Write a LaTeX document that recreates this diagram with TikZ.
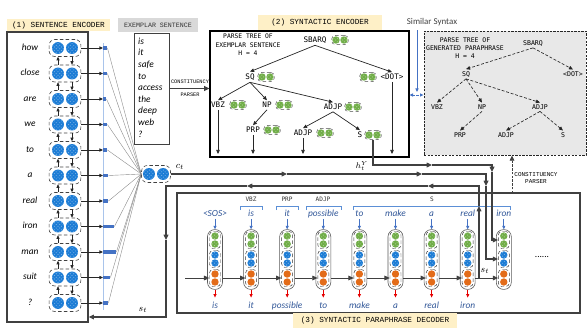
\documentclass[tikz,border=0pt]{standalone}
\usepackage{fontspec}
\setmainfont{Carlito}
\setmonofont{DejaVu Sans Mono}
\newfontfamily\titlemono{Liberation Mono}
\usetikzlibrary{arrows.meta,patterns,fit,calc}
\definecolor{encblue}{HTML}{1C7CD5}
\definecolor{encgreen}{HTML}{70AD47}
\definecolor{encorange}{HTML}{E36C19}
\definecolor{titlebg}{HTML}{FEF0C7}
\definecolor{graylab}{HTML}{D9D9D9}
\definecolor{graybox}{HTML}{E8E8E8}
\definecolor{attnblue}{HTML}{4472C4}
\definecolor{attnline}{HTML}{A9C4EB}
\definecolor{wordblue}{HTML}{2F5597}
\definecolor{brblue}{HTML}{5B8FD6}
\definecolor{darkline}{HTML}{262626}
\definecolor{boxline}{HTML}{404040}
\newcommand{\gpairat}[2]{%
  \node[gpair] (#1) at (#2) {};
  \node[gcirc] (#1a) at ($(#1)+(-4,0)$) {};
  \node[gcirc] (#1b) at ($(#1)+(4,0)$) {};
}
\begin{document}
\begin{tikzpicture}[x=0.03cm,y=-0.03cm,
  word/.style={font=\fontsize{8}{9}\selectfont\itshape, inner sep=0pt, text height=6pt, text depth=2pt},
  dword/.style={word, text=wordblue},
  title/.style={fill=titlebg, inner sep=0pt, font=\titlemono\fontsize{6.6}{7}\selectfont},
  pairbox/.style={draw=black!75, densely dashed, rounded corners=5pt, line width=0.5pt, inner sep=0pt, minimum width=27.2pt, minimum height=14.5pt},
  bcirc/.style={circle, inner sep=0pt, minimum size=10.2pt, preaction={fill=encblue}, pattern=crosshatch dots, pattern color=white!40!encblue},
  gcirc/.style={circle, inner sep=0pt, minimum size=6.3pt, preaction={fill=encgreen}, pattern=crosshatch dots, pattern color=white!40!encgreen},
  dgcirc/.style={gcirc, minimum size=6.3pt},
  dbcirc/.style={circle, inner sep=0pt, minimum size=6.3pt, preaction={fill=encblue}, pattern=crosshatch dots, pattern color=white!40!encblue},
  docirc/.style={circle, inner sep=0pt, minimum size=6.3pt, fill=encorange},
  gpair/.style={draw=black!70, densely dashed, rounded corners=3.5pt, line width=0.4pt, minimum width=14.5pt, minimum height=7.9pt, inner sep=0pt},
  cellbox/.style={draw=black!65, fill=white, rounded corners=6pt, minimum width=12.8pt, minimum height=51pt, inner sep=0pt, line width=0.5pt},
  subbox/.style={draw=black!80, densely dashed, rounded corners=3pt, minimum width=9.4pt, minimum height=14.5pt, inner sep=0pt, line width=0.4pt},
  tlab/.style={font=\ttfamily\fontsize{6.5}{7}\selectfont, inner sep=1.5pt},
  rlab/.style={font=\ttfamily\fontsize{5.6}{6}\selectfont, inner sep=1.5pt},
  blab/.style={font=\ttfamily\fontsize{5.2}{6}\selectfont, inner sep=0pt, text=black!80},
  tarr/.style={-{Triangle[length=3.5pt,width=3pt]}, line width=0.6pt, draw=darkline},
  rarr/.style={tarr, dash pattern=on 2.5pt off 1.5pt, line width=0.55pt},
  conn/.style={line width=0.9pt, draw=boxline},
  tip/.style={-{Triangle[length=4.5pt,width=4pt]}},
  smalltip/.style={-{Triangle[length=3pt,width=2.6pt]}},
  attn/.style={fill=attnblue, inner sep=0pt, minimum height=3.4pt},
  brk/.style={draw=brblue, line width=0.7pt},
]
\useasboundingbox (0,0) rectangle (587,330);

% ================= (1) SENTENCE ENCODER =================
\coordinate (e1) at (7,32); \coordinate (e2) at (88,322);
\node[draw=boxline, line width=1.2pt, fit=(e1)(e2), inner sep=0pt] (encbox) {};
\node[title, minimum width=87.6pt, minimum height=11pt] (t1) at (58.5,25) {(1) SENTENCE ENCODER};

\draw[attnline, line width=0.8pt] (103,43) -- (103,310);

\foreach \w [count=\i] in {how,close,are,we,to,a,real,iron,man,suit,?} {
  \pgfmathsetmacro\yy{48+(\i-1)*25.5}
  \node[word] (w\i) at (30,\yy) {\w};
  \node[pairbox] (p\i) at (65,\yy) {};
  \node[bcirc] (ea\i) at (58,\yy) {};
  \node[bcirc] (eb\i) at (72,\yy) {};
}
\foreach \i in {1,...,10} {
  \pgfmathtruncatemacro\j{\i+1}
  \draw[line width=0.6pt, darkline, smalltip] (p\j.north -| ea\j) -- (p\i.south -| ea\i);
  \draw[line width=0.6pt, darkline, smalltip] (p\i.south -| eb\i) -- (p\j.north -| eb\j);
}
\foreach \i/\aw in {1/4,2/4,3/3,4/4,5/4,6/5,7/5,8/11,9/13,10/7,11/5} {
  \node[attn, minimum width=\aw*0.85pt, anchor=west] (a\i) at (103,{48+(\i-1)*25.5}) {};
}
% context vector
\node[pairbox, minimum width=24.7pt] (ct) at (156,174) {};
\node[bcirc] (cta) at (149,174) {};
\node[bcirc] (ctb) at (163,174) {};
\node[font=\fontsize{8}{9}\selectfont, inner sep=0pt] (ctl) at (180,167) {$c_t$};
\foreach \i in {1,...,11} {
  \draw[black!45, line width=0.35pt] (a\i.east) -- (ct.west);
  \draw[line width=0.6pt, darkline, smalltip] (p\i.east) -- (a\i.west);
}

% ================= EXEMPLAR =================
\node[fill=graylab, inner sep=0pt, minimum width=68pt, minimum height=11.9pt, font=\titlemono\fontsize{5.65}{6}\selectfont, text=black!80] (exlab) at (158,25) {EXEMPLAR SENTENCE};
\coordinate (x1) at (134,33); \coordinate (x2) at (169,144);
\node[draw=boxline, line width=0.8pt, fit=(x1)(x2), inner sep=0pt] (exbox) {};
\foreach \w [count=\i] in {is,it,safe,to,access,the,deep,web,?} {
  \node[word, anchor=west] (xw\i) at (138,{42+(\i-1)*11.6}) {\w};
}

% ================= (2) SYNTACTIC ENCODER =================
\coordinate (s1c) at (210,31); \coordinate (s2c) at (409,157);
\node[draw=black, line width=0.9pt, fit=(s1c)(s2c), inner sep=0pt] (seb) {};
\node[title, minimum width=105.4pt, minimum height=12.8pt] (t2) at (320,22.5) {(2) SYNTACTIC ENCODER};
\draw[conn, line width=1.1pt, tip] (exbox.east) -- (exbox.east -| seb.west);
\node[font=\titlemono\fontsize{4.5}{5}\selectfont, inner sep=0pt] (cp1) at (190,82) {CONSTITUENCY};
\node[font=\titlemono\fontsize{4.5}{5}\selectfont, inner sep=0pt] (cp2) at (190,95) {PARSER};

\node[font=\ttfamily\fontsize{5.4}{7.2}\selectfont, align=center, inner sep=0pt] (lhead) at (248,45) {PARSE TREE OF\\EXEMPLAR SENTENCE\\H = 4};

\node[tlab] (lsbarq) at (315,40) {SBARQ}; \gpairat{gsbarq}{340,40}
\node[tlab] (lsq) at (250,77) {SQ}; \gpairat{gsq}{266,77}
\node[tlab] (ldot) at (392,77) {<DOT>}; \gpairat{gdot}{368,77}
\node[tlab] (lvbz) at (218,105) {VBZ}; \gpairat{gvbz}{238,105}
\node[tlab] (lnp) at (267,105) {NP}; \gpairat{gnp}{284,105}
\node[tlab] (ladjp) at (333,107) {ADJP}; \gpairat{gadjp}{353,107}
\node[tlab] (lprp) at (253,130) {PRP}; \gpairat{gprp}{272,130}
\node[tlab] (ladjpb) at (303,133) {ADJP}; \gpairat{gadjpb}{325,133}
\node[tlab] (ls) at (360,135) {S}; \gpairat{gs}{373,135}

\draw[tarr] (lsbarq.south) -- (lsq.north);
\draw[tarr] (lsbarq.south) -- (ldot.north);
\draw[tarr] (lsq.south) -- (lvbz.north);
\draw[tarr] (lsq.south) -- (lnp.north);
\draw[tarr] (lsq.south) -- (ladjp.north);
\draw[tarr] (lnp.south) -- (lprp.north);
\draw[tarr] (ladjp.south) -- (ladjpb.north);
\draw[tarr] (ladjp.south) -- (ls.north);
\draw[tarr, shorten >=3pt] (lvbz.south) -- (lvbz.south |- seb.south);
\draw[tarr, shorten >=3pt] (lprp.south) -- (lprp.south |- seb.south);
\draw[tarr, shorten >=3pt] (ladjpb.south) -- (ladjpb.south |- seb.south);
\draw[tarr, shorten >=3pt] (ldot.south) -- (ldot.south |- seb.south);
\node[font=\fontsize{7.5}{8}\selectfont, inner sep=0pt] (hl) at (362,166) {$h_t^Y$};

% ================= GENERATED PARAPHRASE TREE =================
\coordinate (r1) at (424,31); \coordinate (r2) at (586,155);
\node[draw=darkline, fill=graybox, dash pattern=on 2pt off 1pt, line width=0.8pt, fit=(r1)(r2), inner sep=0pt] (gbox) {};
\node[font=\ttfamily\fontsize{5.5}{6.8}\selectfont, align=center, inner sep=0pt] (rhead) at (465,48) {PARSE TREE OF\\GENERATED PARAPHRASE\\H = 4};
\node[rlab] (rsbarq) at (533,43) {SBARQ};
\node[rlab] (rsq) at (466,74) {SQ};
\node[rlab] (rdot) at (573,74) {<DOT>};
\node[rlab] (rvbz) at (437,107) {VBZ};
\node[rlab] (rnp) at (482,107) {NP};
\node[rlab] (radjp) at (540,107) {ADJP};
\node[rlab] (rprp) at (460,135) {PRP};
\node[rlab] (radjpb) at (506,135) {ADJP};
\node[rlab] (rs) at (563,135) {S};
\draw[rarr] (rsbarq.south) -- (rsq.north);
\draw[rarr] (rsbarq.south) -- (rdot.north);
\draw[rarr] (rsq.south) -- (rvbz.north);
\draw[rarr] (rsq.south) -- (rnp.north);
\draw[rarr] (rsq.south) -- (radjp.north);
\draw[rarr] (rnp.south) -- (rprp.north);
\draw[rarr] (radjp.south) -- (radjpb.north);
\draw[rarr] (radjp.south) -- (rs.north);

% similar syntax
\node[font=\fontsize{7.6}{8}\selectfont, text=black!75, inner sep=0pt] (simsyn) at (432,22) {Similar Syntax};
\coordinate (simtop) at (417,30);
\draw[draw=attnblue, line width=0.8pt, smalltip] (simtop) -- (417,92);
\draw[draw=attnblue, line width=0.8pt, dash pattern=on 2pt off 1pt, {Triangle[length=3pt,width=2.6pt]}-{Triangle[length=3pt,width=2.6pt]}] (seb.east |- 0,95) -- (gbox.west |- 0,95);

% ================= (3) DECODER =================
\coordinate (d1) at (177,193); \coordinate (d2) at (580,313);
\node[draw=boxline, line width=0.9pt, fit=(d1)(d2), inner sep=0pt] (decbox) {};
\node[title, minimum width=139.5pt, minimum height=12.8pt] (t3) at (375,320.5) {(3) SYNTACTIC PARAPHRASE DECODER};

\foreach \i in {1,...,9} {
  \pgfmathsetmacro\cx{215+(\i-1)*36.1}
  \node[cellbox] (c\i) at (\cx,259.5) {};
  \node[subbox] (sg\i) at (\cx,240) {};
  \node[subbox] (sb\i) at (\cx,259) {};
  \node[subbox] (so\i) at (\cx,278) {};
  \node[dgcirc] (gga\i) at (\cx,236) {};
  \node[dgcirc] (ggb\i) at (\cx,244) {};
  \node[dbcirc] (bba\i) at (\cx,255) {};
  \node[dbcirc] (bbb\i) at (\cx,263) {};
  \node[docirc] (ooa\i) at (\cx,274) {};
  \node[docirc] (oob\i) at (\cx,282) {};
}
\foreach \w [count=\i] in {<SOS>,is,it,possible,to,make,a,real,iron} {
  \pgfmathsetmacro\cx{215+(\i-1)*36.1}
  \node[dword] (tw\i) at (\cx,214) {\w};
  \draw[draw=attnblue, line width=0.6pt, smalltip] (tw\i.south) -- (c\i.north);
}
\foreach \w [count=\i] in {is,it,possible,to,make,a,real,iron} {
  \pgfmathsetmacro\cx{215+(\i-1)*36.1}
  \node[dword] (ow\i) at (\cx,306) {\w};
  \draw[draw=red!90!black, line width=0.6pt, smalltip, shorten >=3pt] (c\i.south) -- (ow\i.north);
}
% brackets
\draw[brk] (240,210) -- (240,206) -- (262,206) -- (262,210);
\draw[brk] (276,210) -- (276,206) -- (298,206) -- (298,210);
\draw[brk] (306,210) -- (306,206) -- (341,206) -- (341,210);
\draw[brk] (353,210) -- (353,206) -- (510,206) -- (510,210);
\node[blab] (bvbz) at (251,199) {VBZ};
\node[blab] (bprp) at (287,199) {PRP};
\node[blab] (badjp) at (323,199) {ADJP};
\node[blab] (bs) at (432,199) {S};

% recurrent arrows
\coordinate (dstart) at (185,278);
\draw[conn, line width=0.7pt, tip] (dstart) -- (so1.west);
\foreach \i in {1,...,8} {
  \pgfmathtruncatemacro\j{\i+1}
  \draw[conn, line width=0.7pt, tip] (so\i.east -| c\i.east) -- (so\j.west);
}
\node[font=\fontsize{8}{9}\selectfont, inner sep=0pt] (stl) at (485,271) {$s_t$};
\node[font=\fontsize{8}{9}\selectfont, inner sep=0pt] (dots) at (542,257) {......};

% h_t^Y line to green
\coordinate (hA) at (373,165); \coordinate (hB) at (432,165); \coordinate (hC) at (492,165); \coordinate (hD) at (492,172);
\draw[conn, tip] (gs.south) -- (hA) -- (hB);
\draw[conn, tip] (hB) -- (hC) -- (hD);
\draw[conn, tip] (hD) -- (hD |- sg9.west) -- (sg9.west);

% c_t line to blue
\coordinate (cA) at (287,174); \coordinate (cB) at (422,174); \coordinate (cC) at (486,174); \coordinate (cD) at (486,186);
\draw[conn, tip] (ct.east) -- (cA);
\draw[conn, tip] (cA) -- (cB);
\draw[conn, tip] (cB) -- (cC) -- (cD);
\draw[conn, tip] (cD) -- (cD |- sb9.west) -- (sb9.west);

% s_t feedback
\coordinate (fA) at (479,278); \coordinate (fB) at (479,206); \coordinate (fC) at (479,186);
\coordinate (fD) at (428,186); \coordinate (fE) at (247,186); \coordinate (fF) at (166,186);
\coordinate (fG) at (166,240); \coordinate (fH) at (166,317);
\draw[conn, tip] (fA) -- (fB);
\draw[conn, tip] (fB) -- (fC) -- (fD);
\draw[conn, tip] (fD) -- (fE);
\draw[conn, tip] (fE) -- (fF) -- (fG);
\draw[conn, tip] (fG) -- (fH) -- (fH -| encbox.east);
\node[font=\fontsize{8}{9}\selectfont, inner sep=0pt] (stl2) at (143,310) {$s_t$};

% constituency parser (decoder -> generated tree)
\coordinate (pp) at (512,193);
\draw[conn, line width=0.8pt, dash pattern=on 2pt off 1.2pt, tip] (pp) -- (pp |- gbox.south);
\node[font=\titlemono\fontsize{5.1}{6}\selectfont, inner sep=0pt] (cp3) at (536,175) {CONSTITUENCY};
\node[font=\titlemono\fontsize{5.1}{6}\selectfont, inner sep=0pt] (cp4) at (536,182) {PARSER};
\end{tikzpicture}
\end{document}
